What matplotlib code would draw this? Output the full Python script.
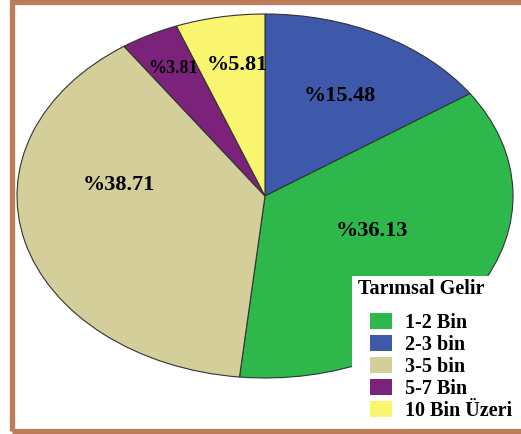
import matplotlib.pyplot as plt
from matplotlib.patches import Rectangle

# slices in drawing order (clockwise from 12 o'clock)
labels = ["2-3 bin", "1-2 Bin", "3-5 bin", "5-7 Bin", "10 Bin Üzeri"]
values = [15.48, 36.13, 38.71, 3.81, 5.81]
colors = ["#3E58AA", "#2EB84B", "#D4CE9A", "#7B237A", "#FAF56E"]
pct_text = ["%15.48", "%36.13", "%38.71", "%3.81", "%5.81"]

# legend order as in the chart
legend_order = ["1-2 Bin", "2-3 bin", "3-5 bin", "5-7 Bin", "10 Bin Üzeri"]
legend_title = "Tarımsal Gelir"

# label anchor points inside the ellipse (axes data units)
text_pos = [(0.30, 0.55), (0.43, -0.19), (-0.59, 0.06), (-0.37, 0.70), (-0.11, 0.72)]
text_size = [16, 16, 16, 13, 16]

plt.rcParams["font.family"] = ["Liberation Serif", "DejaVu Serif"]
plt.rcParams["font.weight"] = "bold"

W, H = 521, 434
fig = plt.figure(figsize=(W / 100, H / 100), dpi=100)
ax = fig.add_axes([17 / W, 56 / H, 496 / W, 364 / H])

wedges, _ = ax.pie(values, colors=colors, startangle=90, counterclock=False,
                   wedgeprops=dict(edgecolor="#333333", linewidth=0.8))
ax.set_aspect("auto")
ax.set_xlim(-1, 1)
ax.set_ylim(-1, 1)

for t, (x, y), s in zip(pct_text, text_pos, text_size):
    ax.text(x, y, t, ha="center", va="center", fontsize=s, fontweight="bold")

# white legend panel over the pie
fig.add_artist(Rectangle((352 / W, 5 / H), 1, (H - 276 - 5) / H,
                         transform=fig.transFigure, facecolor="white",
                         edgecolor="none", zorder=3))
fig.text(358 / W, 1 - 289 / H, legend_title, ha="left", va="center",
         fontsize=14.5, fontweight="bold", zorder=6)

handles = [wedges[labels.index(l)] for l in legend_order]
leg = fig.legend(handles, legend_order, loc="upper left",
                 bbox_to_anchor=(370 / W, 1 - 313 / H), frameon=False,
                 prop=dict(size=14.5, weight="bold"),
                 handlelength=1.1, handleheight=0.85, handletextpad=0.65,
                 labelspacing=0.1, borderpad=0, borderaxespad=0)
leg.set_zorder(6)
for h in leg.legend_handles:
    h.set_edgecolor("none")

# brown frame around the picture
fig.add_artist(Rectangle((11.5 / W, 3 / H), 1.2, 429 / H,
                         transform=fig.transFigure, fill=False,
                         edgecolor="#BE7D5A", linewidth=3.8, zorder=10))

fig.savefig("out.png", dpi=100)
